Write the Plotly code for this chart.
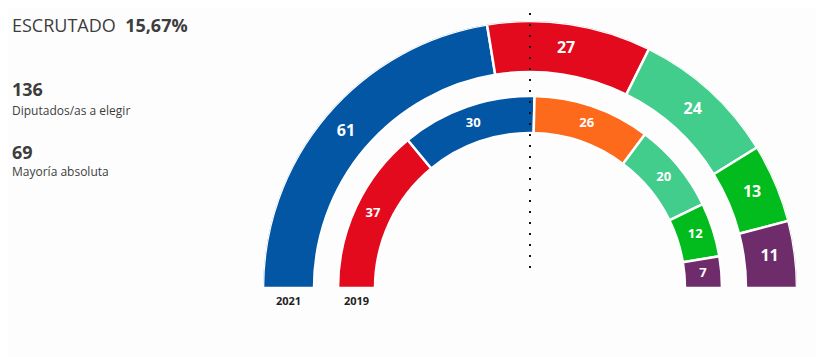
import plotly.graph_objects as go

# Data
parties_2021 = ["PP", "PSOE", "Más Madrid", "Vox", "Unidas Podemos"]
seats_2021 = [61, 27, 24, 13, 11]
colors_2021 = ["#0256A3", "#E20A1C", "#43CD8D", "#01BC1C", "#6E2C6A"]

parties_2019 = ["PSOE", "PP", "Ciudadanos", "Más Madrid", "Vox", "Unidas Podemos"]
seats_2019 = [37, 30, 26, 20, 12, 7]
colors_2019 = ["#E20A1C", "#0256A3", "#FE6A1B", "#43CD8D", "#01BC1C", "#6E2C6A"]

ring_labels = ["2021", "2019"]
scrutiny = "15,67%"
total_seats = 136
majority = 69

W, H = 824, 357
OFF = 8  # page body margin
cx, cy = 530 - OFF, 288 - OFF  # px centre of semicircle (figure coords)
R = 267
outer_ring = (216, 267)
inner_ring = (155, 192)


def ring(values):
    tot = sum(values)
    thetas, widths = [], []
    cum = 0
    for v in values:
        thetas.append((cum + v / 2) / tot * 180)
        widths.append(v / tot * 180)
        cum += v
    return thetas, widths


fig = go.Figure()
for vals, cols, (r0, r1), fsize in [
    (seats_2021, colors_2021, outer_ring, 16),
    (seats_2019, colors_2019, inner_ring, 13),
]:
    th, wd = ring(vals)
    fig.add_trace(go.Barpolar(
        theta=th, width=wd, r=[r1 - r0] * len(vals), base=[r0] * len(vals),
        marker=dict(color=cols, line=dict(color="white", width=2.5)),
        hoverinfo="skip", showlegend=False,
    ))
    fig.add_trace(go.Scatterpolar(
        theta=th, r=[(r0 + r1) / 2] * len(vals), mode="text",
        text=[str(v) for v in vals],
        textfont=dict(color="white", size=fsize, family="Open Sans", weight="bold"),
        hoverinfo="skip", showlegend=False,
    ))

fig.update_layout(
    width=W, height=H,
    margin=dict(l=0, r=0, t=0, b=0),
    paper_bgcolor="#fdfdfd",
    plot_bgcolor="#fdfdfd",
    font=dict(family="Open Sans", color="#3d3d3d"),
    polar=dict(
        domain=dict(x=[(cx - R) / W, (cx + R) / W], y=[(H - cy) / H, (H - cy + R) / H]),
        sector=[0, 180],
        hole=0,
        bgcolor="rgba(0,0,0,0)",
        radialaxis=dict(range=[0, R], visible=False, showgrid=False),
        angularaxis=dict(visible=False, showgrid=False, rotation=180,
                         direction="clockwise", thetaunit="degrees"),
    ),
)

# dotted majority line
fig.add_shape(type="line", xref="paper", yref="paper",
              x0=cx / W, x1=cx / W, y0=1 - (268 - OFF) / H, y1=1 - (12 - OFF) / H,
              line=dict(color="#111", width=2, dash="2px,9px"))

ann = [
    dict(x=12, y=25, text=f"ESCRUTADO  <b>{scrutiny}</b>", size=18),
    dict(x=12, y=89, text=f"<b>{total_seats}</b>", size=18),
    dict(x=12, y=110, text="Diputados/as a elegir", size=12),
    dict(x=12, y=152, text=f"<b>{majority}</b>", size=18),
    dict(x=12, y=172, text="Mayoría absoluta", size=12),
]
for a in ann:
    fig.add_annotation(x=(a["x"] - OFF - 2) / W, y=1 - (a["y"] - OFF) / H,
                       xref="paper", yref="paper",
                       xanchor="left", yanchor="middle", showarrow=False,
                       text=a["text"], font=dict(size=a["size"], color="#3d3d3d"))

for lbl, (r0, r1) in zip(ring_labels, [outer_ring, inner_ring]):
    xm = cx - (r0 + r1) / 2
    fig.add_annotation(x=xm / W, y=1 - (300 - OFF) / H, xref="paper", yref="paper",
                       xanchor="center", yanchor="middle", showarrow=False,
                       text=f"<b>{lbl}</b>", font=dict(size=11, color="#222"))

fig.write_html("out.html")
